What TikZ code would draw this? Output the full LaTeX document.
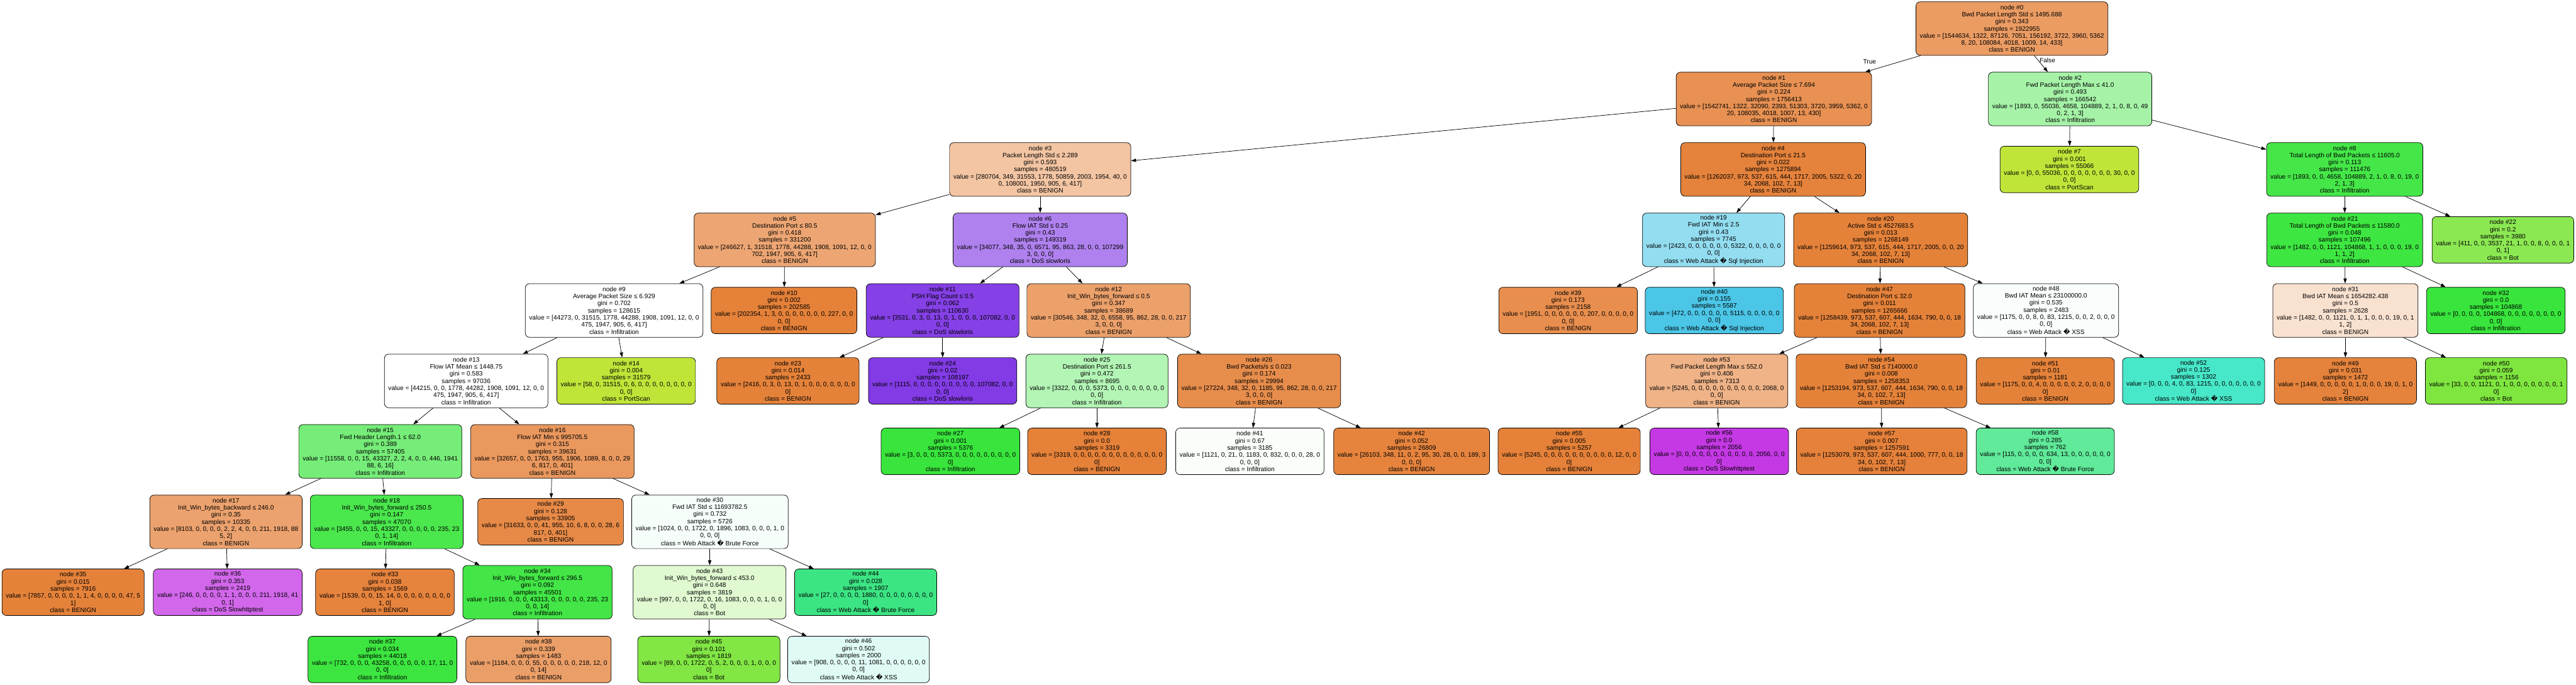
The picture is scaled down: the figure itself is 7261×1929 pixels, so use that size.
\documentclass[tikz,border=0pt]{standalone}
\usepackage{fontspec}
\setmainfont{Liberation Sans}
\newfontfamily\dvsfont{DejaVu Sans}
\usetikzlibrary{arrows.meta}
\newcommand\rch{{\dvsfont\symbol{"FFFD}}}
\newcommand\Ltxt[6]{node \##1\\gini = #2\\samples = #3\\value = [#4\\#5]\\class = #6}
\newcommand\Itxt[7]{node \##1\\#2\\gini = #3\\samples = #4\\value = [#5\\#6]\\class = #7}
\definecolor{K0}{RGB}{229,129,57}
\definecolor{K2}{RGB}{192,229,57}
\definecolor{K3}{RGB}{123,229,57}
\definecolor{K4}{RGB}{57,229,60}
\definecolor{K5}{RGB}{57,229,129}
\definecolor{K6}{RGB}{57,229,197}
\definecolor{K7}{RGB}{57,192,229}
\definecolor{K10}{RGB}{129,57,229}
\definecolor{K11}{RGB}{197,57,229}
\newcommand\mkcol[5]{\edef\mkcoltmp{\noexpand\colorlet{#1}{#2!\fpeval{round(100*(#3-#4)/(#5-#4),2)}!white}}\mkcoltmp}
\mkcol{f0}{K0}{1544634}{156192}{1922955}
\mkcol{f1}{K0}{1542741}{108035}{1756413}
\mkcol{f2}{K4}{104889}{55036}{166542}
\mkcol{f3}{K0}{280704}{108001}{480519}
\mkcol{f4}{K0}{1262037}{5322}{1275894}
\mkcol{f5}{K0}{246627}{44288}{331200}
\mkcol{f6}{K10}{107299}{34077}{149319}
\mkcol{f7}{K2}{55036}{30}{55066}
\mkcol{f8}{K4}{104889}{4658}{111476}
\mkcol{f9}{K4}{44288}{44273}{128615}
\mkcol{f10}{K0}{202354}{227}{202585}
\mkcol{f11}{K10}{107082}{3531}{110630}
\mkcol{f12}{K0}{30546}{6558}{38689}
\mkcol{f13}{K4}{44282}{44215}{97036}
\mkcol{f14}{K2}{31515}{58}{31579}
\mkcol{f15}{K4}{43327}{11558}{57405}
\mkcol{f16}{K0}{32657}{1906}{39631}
\mkcol{f17}{K0}{8103}{1918}{10335}
\mkcol{f18}{K4}{43327}{3455}{47070}
\mkcol{f19}{K7}{5322}{2423}{7745}
\mkcol{f20}{K0}{1259614}{2068}{1268149}
\mkcol{f21}{K4}{104868}{1482}{107496}
\mkcol{f22}{K3}{3537}{411}{3980}
\mkcol{f23}{K0}{2416}{13}{2433}
\mkcol{f24}{K10}{107082}{1115}{108197}
\mkcol{f25}{K4}{5373}{3322}{8695}
\mkcol{f26}{K0}{27224}{1185}{29994}
\mkcol{f27}{K4}{5373}{3}{5376}
\mkcol{f28}{K0}{3319}{0}{3319}
\mkcol{f29}{K0}{31633}{955}{33905}
\mkcol{f30}{K5}{1896}{1722}{5726}
\mkcol{f31}{K0}{1482}{1121}{2628}
\mkcol{f32}{K4}{104868}{0}{104868}
\mkcol{f33}{K0}{1539}{15}{1569}
\mkcol{f34}{K4}{43313}{1916}{45501}
\mkcol{f35}{K0}{7857}{47}{7916}
\mkcol{f36}{K11}{1918}{246}{2419}
\mkcol{f37}{K4}{43258}{732}{44018}
\mkcol{f38}{K0}{1184}{218}{1483}
\mkcol{f39}{K0}{1951}{207}{2158}
\mkcol{f40}{K7}{5115}{472}{5587}
\mkcol{f41}{K4}{1183}{1121}{3185}
\mkcol{f42}{K0}{26103}{348}{26809}
\mkcol{f43}{K3}{1722}{1083}{3819}
\mkcol{f44}{K5}{1880}{27}{1907}
\mkcol{f45}{K3}{1722}{89}{1819}
\mkcol{f46}{K6}{1081}{908}{2000}
\mkcol{f47}{K0}{1258439}{2068}{1265666}
\mkcol{f48}{K6}{1215}{1175}{2483}
\mkcol{f49}{K0}{1449}{19}{1472}
\mkcol{f50}{K3}{1121}{33}{1156}
\mkcol{f51}{K0}{1175}{4}{1181}
\mkcol{f52}{K6}{1215}{83}{1302}
\mkcol{f53}{K0}{5245}{2068}{7313}
\mkcol{f54}{K0}{1253194}{1634}{1258353}
\mkcol{f55}{K0}{5245}{12}{5257}
\mkcol{f56}{K11}{2056}{0}{2056}
\mkcol{f57}{K0}{1253079}{1000}{1257591}
\mkcol{f58}{K5}{634}{115}{762}
\begin{document}
\begin{tikzpicture}[x=0.5pt,y=-0.5pt,
  tnode/.style={draw=black, line width=0.65pt, rounded corners=6pt, align=center,
    font=\fontsize{9}{10}\selectfont, inner xsep=5.5pt, inner ysep=0pt},
  inode/.style={tnode, minimum height=75.5pt},
  lnode/.style={tnode, minimum height=65.5pt},
  elabel/.style={font=\fontsize{9}{10}\selectfont, inner sep=0pt},
  edge/.style={-{Triangle[length=7pt,width=4.7pt]}, line width=0.65pt}]
\fill[white] (0,0) rectangle (7261,1929);
\useasboundingbox (0,0) rectangle (7261,1929);
% row 0
\node[inode, fill=f0] (n0) at (5671,80.5) {\Itxt{0}{Bwd Packet Length Std ≤ 1495.688}{0.343}{1922955}{1544634, 1322, 87126, 7051, 156192, 3722, 3960, 5362}{8, 20, 108084, 4018, 1009, 14, 433}{BENIGN}};
% row 1
\node[inode, fill=f1] (n1) at (5000,279) {\Itxt{1}{Average Packet Size ≤ 7.694}{0.224}{1756413}{1542741, 1322, 32090, 2393, 51303, 3720, 3959, 5362, 0}{20, 108035, 4018, 1007, 13, 430}{BENIGN}};
\node[inode, fill=f2] (n2) at (5835,279) {\Itxt{2}{Fwd Packet Length Max ≤ 41.0}{0.493}{166542}{1893, 0, 55036, 4658, 104889, 2, 1, 0, 8, 0, 49}{0, 2, 1, 3}{Infiltration}};
% row 2
\node[inode, fill=f3] (n3) at (2932,477.5) {\Itxt{3}{Packet Length Std ≤ 2.289}{0.593}{480519}{280704, 349, 31553, 1778, 50859, 2003, 1954, 40, 0}{0, 108001, 1950, 905, 6, 417}{BENIGN}};
\node[inode, fill=f4] (n4) at (4998,477.5) {\Itxt{4}{Destination Port ≤ 21.5}{0.022}{1275894}{1262037, 973, 537, 615, 444, 1717, 2005, 5322, 0, 20}{34, 2068, 102, 7, 13}{BENIGN}};
\node[lnode, fill=f7] (n7) at (5833,477.5) {\Ltxt{7}{0.001}{55066}{0, 0, 55036, 0, 0, 0, 0, 0, 0, 0, 30, 0, 0}{0, 0}{PortScan}};
\node[inode, fill=f8] (n8) at (6609,477.5) {\Itxt{8}{Total Length of Bwd Packets ≤ 11605.0}{0.113}{111476}{1893, 0, 0, 4658, 104889, 2, 1, 0, 8, 0, 19, 0}{2, 1, 3}{Infiltration}};
% row 3
\node[inode, fill=f5] (n5) at (2212,676) {\Itxt{5}{Destination Port ≤ 80.5}{0.418}{331200}{246627, 1, 31518, 1778, 44288, 1908, 1091, 12, 0, 0}{702, 1947, 905, 6, 417}{BENIGN}};
\node[inode, fill=f6] (n6) at (2932,676) {\Itxt{6}{Flow IAT Std ≤ 0.25}{0.43}{149319}{34077, 348, 35, 0, 6571, 95, 863, 28, 0, 0, 107299}{3, 0, 0, 0}{DoS slowloris}};
\node[inode, fill=f19] (n19) at (4830,676) {\Itxt{19}{Fwd IAT Min ≤ 2.5}{0.43}{7745}{2423, 0, 0, 0, 0, 0, 0, 5322, 0, 0, 0, 0, 0}{0, 0}{Web Attack \rch{} Sql Injection}};
\node[inode, fill=f20] (n20) at (5301,676) {\Itxt{20}{Active Std ≤ 4527683.5}{0.013}{1268149}{1259614, 973, 537, 615, 444, 1717, 2005, 0, 0, 20}{34, 2068, 102, 7, 13}{BENIGN}};
\node[inode, fill=f21] (n21) at (6609,676) {\Itxt{21}{Total Length of Bwd Packets ≤ 11580.0}{0.048}{107496}{1482, 0, 0, 1121, 104868, 1, 1, 0, 0, 0, 19, 0}{1, 1, 2}{Infiltration}};
\node[lnode, fill=f22] (n22) at (7055,676) {\Ltxt{22}{0.2}{3980}{411, 0, 0, 3537, 21, 1, 0, 0, 8, 0, 0, 0, 1}{0, 1}{Bot}};
% row 4
\node[inode, fill=f9] (n9) at (1731,875) {\Itxt{9}{Average Packet Size ≤ 6.929}{0.702}{128615}{44273, 0, 31515, 1778, 44288, 1908, 1091, 12, 0, 0}{475, 1947, 905, 6, 417}{Infiltration}};
\node[lnode, fill=f10] (n10) at (2210,875) {\Ltxt{10}{0.002}{202585}{202354, 1, 3, 0, 0, 0, 0, 0, 0, 0, 227, 0, 0}{0, 0}{BENIGN}};
\node[inode, fill=f11] (n11) at (2657,875) {\Itxt{11}{PSH Flag Count ≤ 0.5}{0.062}{110630}{3531, 0, 3, 0, 13, 0, 1, 0, 0, 0, 107082, 0, 0}{0, 0}{DoS slowloris}};
\node[inode, fill=f12] (n12) at (3125,875) {\Itxt{12}{Init\_Win\_bytes\_forward ≤ 0.5}{0.347}{38689}{30546, 348, 32, 0, 6558, 95, 862, 28, 0, 0, 217}{3, 0, 0, 0}{BENIGN}};
\node[lnode, fill=f39] (n39) at (4420,875) {\Ltxt{39}{0.173}{2158}{1951, 0, 0, 0, 0, 0, 0, 207, 0, 0, 0, 0, 0}{0, 0}{BENIGN}};
\node[lnode, fill=f40] (n40) at (4832,875) {\Ltxt{40}{0.155}{5587}{472, 0, 0, 0, 0, 0, 0, 5115, 0, 0, 0, 0, 0}{0, 0}{Web Attack \rch{} Sql Injection}};
\node[inode, fill=f47] (n47) at (5298,875) {\Itxt{47}{Destination Port ≤ 32.0}{0.011}{1265666}{1258439, 973, 537, 607, 444, 1634, 790, 0, 0, 18}{34, 2068, 102, 7, 13}{BENIGN}};
\node[inode, fill=f48] (n48) at (5767,875) {\Itxt{48}{Bwd IAT Mean ≤ 23100000.0}{0.535}{2483}{1175, 0, 0, 8, 0, 83, 1215, 0, 0, 2, 0, 0, 0}{0, 0}{Web Attack \rch{} XSS}};
\node[inode, fill=f31] (n31) at (6611,875) {\Itxt{31}{Bwd IAT Mean ≤ 1654282.438}{0.5}{2628}{1482, 0, 0, 1121, 0, 1, 1, 0, 0, 0, 19, 0, 1}{1, 2}{BENIGN}};
\node[lnode, fill=f32] (n32) at (7035,875) {\Ltxt{32}{0.0}{104868}{0, 0, 0, 0, 104868, 0, 0, 0, 0, 0, 0, 0, 0}{0, 0}{Infiltration}};
% row 5
\node[inode, fill=f13] (n13) at (1314,1073.5) {\Itxt{13}{Flow IAT Mean ≤ 1448.75}{0.583}{97036}{44215, 0, 0, 1778, 44282, 1908, 1091, 12, 0, 0}{475, 1947, 905, 6, 417}{Infiltration}};
\node[lnode, fill=f14] (n14) at (1765,1073.5) {\Ltxt{14}{0.004}{31579}{58, 0, 31515, 0, 6, 0, 0, 0, 0, 0, 0, 0, 0}{0, 0}{PortScan}};
\node[lnode, fill=f23] (n23) at (2221,1073.5) {\Ltxt{23}{0.014}{2433}{2416, 0, 3, 0, 13, 0, 1, 0, 0, 0, 0, 0, 0, 0}{0}{BENIGN}};
\node[lnode, fill=f24] (n24) at (2657,1073.5) {\Ltxt{24}{0.02}{108197}{1115, 0, 0, 0, 0, 0, 0, 0, 0, 0, 107082, 0, 0}{0, 0}{DoS slowloris}};
\node[inode, fill=f25] (n25) at (3092,1073.5) {\Itxt{25}{Destination Port ≤ 261.5}{0.472}{8695}{3322, 0, 0, 0, 5373, 0, 0, 0, 0, 0, 0, 0, 0}{0, 0}{Infiltration}};
\node[inode, fill=f26] (n26) at (3549,1073.5) {\Itxt{26}{Bwd Packets/s ≤ 0.023}{0.174}{29994}{27224, 348, 32, 0, 1185, 95, 862, 28, 0, 0, 217}{3, 0, 0, 0}{BENIGN}};
\node[inode, fill=f53] (n53) at (4839,1073.5) {\Itxt{53}{Fwd Packet Length Max ≤ 552.0}{0.406}{7313}{5245, 0, 0, 0, 0, 0, 0, 0, 0, 0, 0, 2068, 0}{0, 0}{BENIGN}};
\node[inode, fill=f54] (n54) at (5303,1073.5) {\Itxt{54}{Bwd IAT Std ≤ 7140000.0}{0.008}{1258353}{1253194, 973, 537, 607, 444, 1634, 790, 0, 0, 18}{34, 0, 102, 7, 13}{BENIGN}};
\node[lnode, fill=f51] (n51) at (5765,1073.5) {\Ltxt{51}{0.01}{1181}{1175, 0, 0, 4, 0, 0, 0, 0, 0, 2, 0, 0, 0, 0}{0}{BENIGN}};
\node[lnode, fill=f52] (n52) at (6183,1073.5) {\Ltxt{52}{0.125}{1302}{0, 0, 0, 4, 0, 83, 1215, 0, 0, 0, 0, 0, 0, 0}{0}{Web Attack \rch{} XSS}};
\node[lnode, fill=f49] (n49) at (6611,1073.5) {\Ltxt{49}{0.031}{1472}{1449, 0, 0, 0, 0, 0, 1, 0, 0, 0, 19, 0, 1, 0}{2}{BENIGN}};
\node[lnode, fill=f50] (n50) at (7036,1073.5) {\Ltxt{50}{0.059}{1156}{33, 0, 0, 1121, 0, 1, 0, 0, 0, 0, 0, 0, 0, 1}{0}{Bot}};
% row 6
\node[inode, fill=f15] (n15) at (1072,1272) {\Itxt{15}{Fwd Header Length.1 ≤ 62.0}{0.389}{57405}{11558, 0, 0, 15, 43327, 2, 2, 4, 0, 0, 446, 1941}{88, 6, 16}{Infiltration}};
\node[inode, fill=f16] (n16) at (1557,1272) {\Itxt{16}{Flow IAT Min ≤ 995705.5}{0.315}{39631}{32657, 0, 0, 1763, 955, 1906, 1089, 8, 0, 0, 29}{6, 817, 0, 401}{BENIGN}};
\node[lnode, fill=f27] (n27) at (2679,1272) {\Ltxt{27}{0.001}{5376}{3, 0, 0, 0, 5373, 0, 0, 0, 0, 0, 0, 0, 0, 0}{0}{Infiltration}};
\node[lnode, fill=f28] (n28) at (3092,1272) {\Ltxt{28}{0.0}{3319}{3319, 0, 0, 0, 0, 0, 0, 0, 0, 0, 0, 0, 0, 0}{0}{BENIGN}};
\node[lnode, fill=f41] (n41) at (3523,1272) {\Ltxt{41}{0.67}{3185}{1121, 0, 21, 0, 1183, 0, 832, 0, 0, 0, 28, 0}{0, 0, 0}{Infiltration}};
\node[lnode, fill=f42] (n42) at (3979,1272) {\Ltxt{42}{0.052}{26809}{26103, 348, 11, 0, 2, 95, 30, 28, 0, 0, 189, 3}{0, 0, 0}{BENIGN}};
\node[lnode, fill=f55] (n55) at (4423,1272) {\Ltxt{55}{0.005}{5257}{5245, 0, 0, 0, 0, 0, 0, 0, 0, 0, 0, 12, 0, 0}{0}{BENIGN}};
\node[lnode, fill=f56] (n56) at (4846,1272) {\Ltxt{56}{0.0}{2056}{0, 0, 0, 0, 0, 0, 0, 0, 0, 0, 0, 2056, 0, 0}{0}{DoS Slowhttptest}};
\node[lnode, fill=f57] (n57) at (5304,1272) {\Ltxt{57}{0.007}{1257591}{1253079, 973, 537, 607, 444, 1000, 777, 0, 0, 18}{34, 0, 102, 7, 13}{BENIGN}};
\node[lnode, fill=f58] (n58) at (5765,1272) {\Ltxt{58}{0.285}{762}{115, 0, 0, 0, 0, 634, 13, 0, 0, 0, 0, 0, 0}{0, 0}{Web Attack \rch{} Brute Force}};
% row 7
\node[inode, fill=f17] (n17) at (637,1470.5) {\Itxt{17}{Init\_Win\_bytes\_backward ≤ 246.0}{0.35}{10335}{8103, 0, 0, 0, 0, 2, 2, 4, 0, 0, 211, 1918, 88}{5, 2}{BENIGN}};
\node[inode, fill=f18] (n18) at (1090,1470.5) {\Itxt{18}{Init\_Win\_bytes\_forward ≤ 250.5}{0.147}{47070}{3455, 0, 0, 15, 43327, 0, 0, 0, 0, 0, 235, 23}{0, 1, 14}{Infiltration}};
\node[lnode, fill=f29] (n29) at (1552,1470.5) {\Ltxt{29}{0.128}{33905}{31633, 0, 0, 41, 955, 10, 6, 8, 0, 0, 28, 6}{817, 0, 401}{BENIGN}};
\node[inode, fill=f30] (n30) at (2001,1470.5) {\Itxt{30}{Fwd IAT Std ≤ 11693782.5}{0.732}{5726}{1024, 0, 0, 1722, 0, 1896, 1083, 0, 0, 0, 1, 0}{0, 0, 0}{Web Attack \rch{} Brute Force}};
% row 8
\node[lnode, fill=f35] (n35) at (206,1669) {\Ltxt{35}{0.015}{7916}{7857, 0, 0, 0, 0, 1, 1, 4, 0, 0, 0, 0, 47, 5}{1}{BENIGN}};
\node[lnode, fill=f36] (n36) at (642,1669) {\Ltxt{36}{0.353}{2419}{246, 0, 0, 0, 0, 1, 1, 0, 0, 0, 211, 1918, 41}{0, 1}{DoS Slowhttptest}};
\node[lnode, fill=f33] (n33) at (1085,1669) {\Ltxt{33}{0.038}{1569}{1539, 0, 0, 15, 14, 0, 0, 0, 0, 0, 0, 0, 0}{1, 0}{BENIGN}};
\node[inode, fill=f34] (n34) at (1515,1669) {\Itxt{34}{Init\_Win\_bytes\_forward ≤ 296.5}{0.092}{45501}{1916, 0, 0, 0, 43313, 0, 0, 0, 0, 0, 235, 23}{0, 0, 14}{Infiltration}};
\node[inode, fill=f43] (n43) at (2000,1669) {\Itxt{43}{Init\_Win\_bytes\_forward ≤ 453.0}{0.648}{3819}{997, 0, 0, 1722, 0, 16, 1083, 0, 0, 0, 1, 0, 0}{0, 0}{Bot}};
\node[lnode, fill=f44] (n44) at (2440,1669) {\Ltxt{44}{0.028}{1907}{27, 0, 0, 0, 0, 1880, 0, 0, 0, 0, 0, 0, 0, 0}{0}{Web Attack \rch{} Brute Force}};
% row 9
\node[lnode, fill=f37] (n37) at (1078,1858.5) {\Ltxt{37}{0.034}{44018}{732, 0, 0, 0, 43258, 0, 0, 0, 0, 0, 17, 11, 0}{0, 0}{Infiltration}};
\node[lnode, fill=f38] (n38) at (1518,1858.5) {\Ltxt{38}{0.339}{1483}{1184, 0, 0, 0, 55, 0, 0, 0, 0, 0, 218, 12, 0}{0, 14}{BENIGN}};
\node[lnode, fill=f45] (n45) at (1998,1858.5) {\Ltxt{45}{0.101}{1819}{89, 0, 0, 1722, 0, 5, 2, 0, 0, 0, 1, 0, 0, 0}{0}{Bot}};
\node[lnode, fill=f46] (n46) at (2420,1858.5) {\Ltxt{46}{0.502}{2000}{908, 0, 0, 0, 0, 11, 1081, 0, 0, 0, 0, 0, 0}{0, 0}{Web Attack \rch{} XSS}};
% edge labels
\node[elabel] (lt) at (5270,173) {True};
\node[elabel] (lf) at (5771,170) {False};
% edges
\foreach \p/\c in {0/1,0/2,1/3,1/4,2/7,2/8,3/5,3/6,4/19,4/20,8/21,8/22,5/9,5/10,6/11,6/12,
  19/39,19/40,20/47,20/48,21/31,21/32,9/13,9/14,11/23,11/24,12/25,12/26,47/53,47/54,
  48/51,48/52,31/49,31/50,13/15,13/16,25/27,25/28,26/41,26/42,53/55,53/56,54/57,54/58,
  15/17,15/18,16/29,16/30,17/35,17/36,18/33,18/34,30/43,30/44,34/37,34/38,43/45,43/46}
  {\draw[edge] (n\p) -- (n\c);}
\end{tikzpicture}
\end{document}
